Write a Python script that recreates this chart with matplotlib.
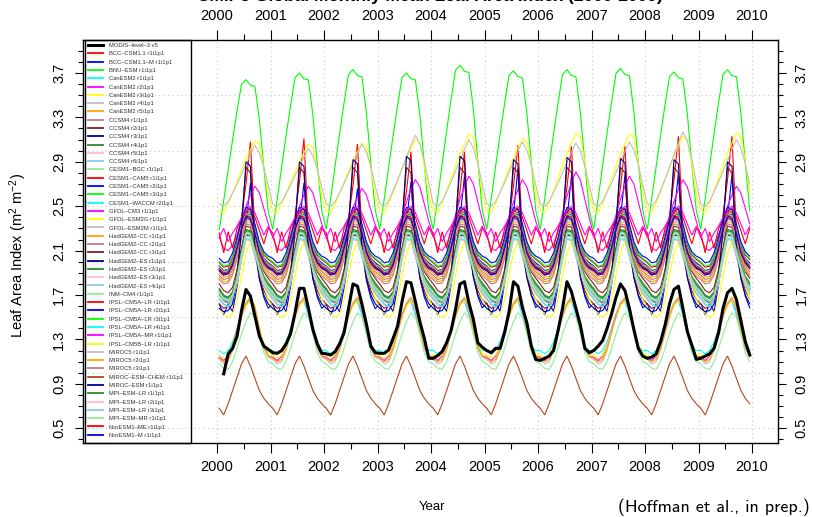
import numpy as np
import matplotlib
matplotlib.use("Agg")
import matplotlib.pyplot as plt
from matplotlib.lines import Line2D
from matplotlib.patches import Rectangle

plt.rcParams['font.family'] = ['Liberation Sans', 'DejaVu Sans']
plt.rcParams['mathtext.fontset'] = 'custom'
plt.rcParams['mathtext.rm'] = 'Liberation Sans'
plt.rcParams['mathtext.it'] = 'Liberation Sans:italic'

# ---------------------------------------------------------------- data
years = list(range(2000, 2010))
year_ticks = list(range(2000, 2011))
lai_ticks = [0.5, 0.9, 1.3, 1.7, 2.1, 2.5, 2.9, 3.3, 3.7]
lai_grid = [0.5, 1.0, 1.5, 2.0, 2.5, 3.0, 3.5]

# MODIS observations, Feb 2000 - Dec 2009 (monthly means)
modis_lai = [
    0.99, 1.17, 1.22, 1.33, 1.56, 1.75, 1.69, 1.51, 1.33, 1.24, 1.21,
    1.18, 1.175, 1.20, 1.26, 1.35, 1.54, 1.76, 1.76, 1.58, 1.39, 1.26, 1.175,
    1.17, 1.16, 1.19, 1.26, 1.36, 1.58, 1.80, 1.78, 1.62, 1.44, 1.24, 1.18,
    1.175, 1.175, 1.205, 1.31, 1.42, 1.64, 1.82, 1.81, 1.64, 1.46, 1.31, 1.13,
    1.13, 1.155, 1.19, 1.27, 1.38, 1.57, 1.80, 1.82, 1.63, 1.48, 1.27, 1.23,
    1.20, 1.18, 1.22, 1.22, 1.36, 1.55, 1.82, 1.78, 1.59, 1.45, 1.24, 1.12,
    1.11, 1.13, 1.15, 1.20, 1.38, 1.58, 1.82, 1.73, 1.58, 1.43, 1.22, 1.18,
    1.20, 1.24, 1.29, 1.40, 1.53, 1.68, 1.80, 1.74, 1.58, 1.39, 1.22, 1.15,
    1.13, 1.14, 1.17, 1.28, 1.43, 1.62, 1.75, 1.78, 1.58, 1.37, 1.25, 1.12,
    1.13, 1.15, 1.17, 1.22, 1.36, 1.58, 1.72, 1.76, 1.66, 1.47, 1.28, 1.16,
]

model_names = [
    "BCC–CSM1.1 r1i1p1", "BCC–CSM1.1–M r1i1p1", "BNU–ESM r1i1p1",
    "CanESM2 r1i1p1", "CanESM2 r2i1p1", "CanESM2 r3i1p1", "CanESM2 r4i1p1",
    "CanESM2 r5i1p1",
    "CCSM4 r1i1p1", "CCSM4 r2i1p1", "CCSM4 r3i1p1", "CCSM4 r4i1p1",
    "CCSM4 r5i1p1", "CCSM4 r6i1p1",
    "CESM1–BGC r1i1p1", "CESM1–CAM5 r1i1p1", "CESM1–CAM5 r2i1p1",
    "CESM1–CAM5 r3i1p1", "CESM1–WACCM r2i1p1",
    "GFDL–CM3 r1i1p1", "GFDL–ESM2G r1i1p1", "GFDL–ESM2M r1i1p1",
    "HadGEM2–CC r1i1p1", "HadGEM2–CC r2i1p1", "HadGEM2–CC r3i1p1",
    "HadGEM2–ES r1i1p1", "HadGEM2–ES r2i1p1", "HadGEM2–ES r3i1p1",
    "HadGEM2–ES r4i1p1",
    "INM–CM4 r1i1p1",
    "IPSL–CM5A–LR r1i1p1", "IPSL–CM5A–LR r2i1p1", "IPSL–CM5A–LR r3i1p1",
    "IPSL–CM5A–LR r4i1p1", "IPSL–CM5A–MR r1i1p1", "IPSL–CM5B–LR r1i1p1",
    "MIROC5 r1i1p1", "MIROC5 r2i1p1", "MIROC5 r3i1p1",
    "MIROC–ESM–CHEM r1i1p1", "MIROC–ESM r1i1p1",
    "MPI–ESM–LR r1i1p1", "MPI–ESM–LR r2i1p1", "MPI–ESM–LR r3i1p1",
    "MPI–ESM–MR r1i1p1", "NorESM1–ME r1i1p1", "NorESM1–M r1i1p1",
]

# 15-colour cycle shared by the model runs
palette = ['#FF0000', '#0000FF', '#00FF00', '#00FFFF', '#FF00FF', '#FFFF00',
           '#BEBEBE', '#FFA500', '#BC7F7F', '#8B1A1A', '#00008B', '#2E8B2E',
           '#FFC0CB', '#87CEEB', '#90EE90']
model_colors = [palette[i % len(palette)] for i in range(len(model_names))]
model_colors[39] = '#B4461E'

# Mean seasonal cycle of each run, Jan..Dec
model_monthly = [
    [1.92, 1.88, 1.90, 1.96, 2.08, 2.40, 2.70, 3.08, 2.25, 2.04, 1.97, 1.94],
    [1.62, 1.52, 1.62, 1.55, 1.78, 2.05, 2.35, 2.72, 2.15, 1.85, 1.68, 1.58],
    [2.29, 2.55, 2.83, 3.10, 3.36, 3.60, 3.64, 3.59, 3.58, 3.28, 2.85, 2.45],
    [1.20, 1.17, 1.20, 1.28, 1.40, 1.53, 1.62, 1.64, 1.52, 1.36, 1.24, 1.20],
    [1.14, 1.11, 1.15, 1.25, 1.39, 1.52, 1.62, 1.66, 1.56, 1.38, 1.22, 1.15],
    [1.16, 1.13, 1.16, 1.25, 1.38, 1.50, 1.60, 1.65, 1.58, 1.40, 1.25, 1.17],
    [1.12, 1.08, 1.10, 1.20, 1.35, 1.50, 1.62, 1.67, 1.57, 1.38, 1.22, 1.14],
    [1.13, 1.10, 1.12, 1.22, 1.37, 1.52, 1.63, 1.68, 1.60, 1.40, 1.24, 1.15],
    [1.74, 1.69, 1.67, 1.72, 1.88, 2.09, 2.28, 2.27, 2.12, 1.97, 1.86, 1.79],
    [1.80, 1.74, 1.72, 1.77, 1.93, 2.13, 2.32, 2.31, 2.17, 2.02, 1.91, 1.85],
    [1.70, 1.65, 1.63, 1.68, 1.84, 2.05, 2.24, 2.23, 2.08, 1.93, 1.82, 1.75],
    [1.76, 1.70, 1.68, 1.73, 1.89, 2.10, 2.29, 2.28, 2.13, 1.98, 1.87, 1.81],
    [1.72, 1.67, 1.65, 1.70, 1.86, 2.07, 2.26, 2.25, 2.10, 1.95, 1.84, 1.77],
    [1.73, 1.68, 1.66, 1.71, 1.87, 2.08, 2.27, 2.26, 2.11, 1.96, 1.85, 1.78],
    [1.69, 1.64, 1.62, 1.67, 1.83, 2.04, 2.23, 2.22, 2.07, 1.92, 1.81, 1.74],
    [1.99, 1.95, 1.96, 2.04, 2.19, 2.36, 2.46, 2.44, 2.31, 2.15, 2.06, 2.02],
    [1.96, 1.92, 1.93, 2.01, 2.16, 2.33, 2.43, 2.42, 2.29, 2.12, 2.03, 1.99],
    [2.00, 1.96, 1.97, 2.05, 2.21, 2.38, 2.48, 2.46, 2.33, 2.16, 2.07, 2.03],
    [1.95, 1.91, 1.92, 2.00, 2.15, 2.32, 2.42, 2.41, 2.28, 2.11, 2.02, 1.98],
    [2.22, 2.12, 2.10, 2.15, 2.24, 2.38, 2.50, 2.60, 2.68, 2.62, 2.48, 2.34],
    [2.46, 2.44, 2.52, 2.62, 2.72, 2.82, 2.92, 3.00, 3.08, 3.05, 2.85, 2.60],
    [2.52, 2.50, 2.54, 2.62, 2.70, 2.79, 2.88, 2.97, 3.05, 2.98, 2.85, 2.68],
    [1.90, 1.86, 1.87, 1.95, 2.10, 2.28, 2.40, 2.39, 2.25, 2.08, 1.98, 1.93],
    [1.88, 1.84, 1.85, 1.93, 2.08, 2.26, 2.38, 2.37, 2.23, 2.06, 1.96, 1.91],
    [1.62, 1.58, 1.60, 1.68, 1.90, 2.35, 2.85, 2.80, 2.10, 1.88, 1.74, 1.66],
    [1.93, 1.89, 1.90, 1.98, 2.13, 2.30, 2.41, 2.40, 2.26, 2.10, 2.00, 1.95],
    [1.96, 1.92, 1.93, 2.01, 2.16, 2.33, 2.44, 2.42, 2.28, 2.12, 2.03, 1.98],
    [1.94, 1.90, 1.91, 1.99, 2.14, 2.31, 2.42, 2.41, 2.27, 2.11, 2.01, 1.96],
    [1.95, 1.91, 1.92, 2.00, 2.15, 2.32, 2.43, 2.41, 2.27, 2.11, 2.02, 1.97],
    [1.08, 1.04, 1.03, 1.10, 1.22, 1.35, 1.46, 1.54, 1.50, 1.35, 1.18, 1.10],
    [2.26, 2.08, 2.27, 2.12, 2.30, 2.38, 2.45, 2.48, 2.40, 2.28, 2.16, 2.30],
    [2.03, 1.99, 2.00, 2.08, 2.22, 2.38, 2.49, 2.47, 2.34, 2.18, 2.09, 2.05],
    [1.71, 1.66, 1.64, 1.69, 1.85, 2.06, 2.25, 2.24, 2.09, 1.94, 1.83, 1.76],
    [1.67, 1.62, 1.60, 1.65, 1.81, 2.02, 2.21, 2.20, 2.05, 1.90, 1.79, 1.72],
    [2.22, 2.30, 2.18, 2.26, 2.32, 2.40, 2.46, 2.50, 2.44, 2.34, 2.24, 2.32],
    [1.58, 1.53, 1.50, 1.53, 1.66, 1.88, 2.08, 2.18, 2.10, 1.92, 1.78, 1.66],
    [1.66, 1.61, 1.59, 1.64, 1.80, 2.01, 2.20, 2.19, 2.04, 1.89, 1.78, 1.71],
    [1.86, 1.82, 1.83, 1.90, 2.05, 2.23, 2.36, 2.35, 2.21, 2.04, 1.94, 1.89],
    [1.84, 1.80, 1.81, 1.88, 2.03, 2.21, 2.34, 2.33, 2.19, 2.02, 1.92, 1.87],
    [0.68, 0.62, 0.72, 0.84, 0.96, 1.08, 1.15, 1.06, 0.95, 0.84, 0.77, 0.72],
    [1.58, 1.55, 1.56, 1.62, 1.85, 2.30, 2.91, 2.87, 2.12, 1.85, 1.70, 1.62],
    [1.75, 1.69, 1.67, 1.72, 1.88, 2.09, 2.28, 2.27, 2.11, 1.96, 1.85, 1.79],
    [1.69, 1.64, 1.62, 1.67, 1.83, 2.04, 2.23, 2.22, 2.07, 1.92, 1.81, 1.74],
    [1.71, 1.66, 1.64, 1.69, 1.85, 2.06, 2.25, 2.24, 2.09, 1.94, 1.83, 1.76],
    [1.72, 1.67, 1.65, 1.70, 1.86, 2.07, 2.26, 2.25, 2.10, 1.95, 1.84, 1.77],
    [1.94, 1.90, 1.91, 1.99, 2.14, 2.31, 2.42, 2.40, 2.27, 2.10, 2.01, 1.96],
    [1.92, 1.88, 1.89, 1.97, 2.12, 2.29, 2.40, 2.38, 2.25, 2.08, 1.99, 1.94],
]

# Seasonal maximum reached in each year (2000..2009) for the runs whose
# peak changes noticeably from year to year
annual_peaks = {
    0: [3.08, 3.11, 3.06, 2.99, 2.99, 3.05, 3.04, 3.04, 3.13, 3.13],
    1: [2.71, 2.71, 2.66, 2.72, 2.77, 2.84, 2.77, 2.78, 2.80, 2.78],
    2: [3.64, 3.70, 3.73, 3.70, 3.77, 3.72, 3.73, 3.74, 3.71, 3.73],
    19: [2.68, 2.68, 2.66, 2.74, 2.77, 2.74, 2.81, 2.77, 2.74, 2.68],
    20: [3.09, 3.06, 3.07, 3.10, 3.15, 3.11, 3.16, 3.15, 3.13, 3.16],
    21: [3.05, 3.02, 3.06, 3.14, 3.10, 3.08, 3.07, 3.08, 3.17, 3.10],
    40: [2.90, 2.90, 2.92, 2.95, 2.95, 2.92, 2.94, 2.93, 2.92, 2.90],
}

# ---------------------------------------------------------------- series
month_time = np.array([y + (m - 0.5) / 12.0 for y in years for m in range(1, 13)])


def model_series(i):
    clim = np.array(model_monthly[i])
    if i not in annual_peaks:
        return np.tile(clim, len(years))
    low, high = clim.min(), clim.max()
    rows = [low + (clim - low) * (pk - low) / (high - low) for pk in annual_peaks[i]]
    return np.concatenate(rows)


# ---------------------------------------------------------------- figure
W, H = 813, 517
fig = plt.figure(figsize=(W / 100, H / 100), dpi=100)
L, R, T, B = 83, 778, 40, 443
ax = fig.add_axes([L / W, 1 - B / H, (R - L) / W, (B - T) / H])
ax.set_xlim(1997.495, 2010.486)
ax.set_ylim(0.367, 3.997)

grid_kw = dict(color='#C8C8C8', lw=0.8, linestyle=(0, (1, 3)), zorder=0)
for g in lai_grid:
    ax.axhline(g, **grid_kw)
for yr in year_ticks:
    ax.axvline(yr, **grid_kw)

for i in range(len(model_names)):
    ax.plot(month_time, model_series(i), color=model_colors[i], lw=0.8,
            zorder=2, solid_joinstyle='miter')
ax.plot(month_time[1:], modis_lai, color='black', lw=2.2, zorder=3)

# axes, ticks and tick labels on all four sides
for s in ax.spines.values():
    s.set_linewidth(1.0)
    s.set_color('black')

ax.set_xticks(year_ticks)
ax.set_xticks([y + 0.5 for y in years], minor=True)
ax.set_yticks(lai_ticks)
ax.set_yticks(np.round(np.arange(0.4, 3.95, 0.1), 1), minor=True)
ax.tick_params(axis='both', which='both', direction='out', width=0.8,
               labelsize=10.5, colors='black')
ax.tick_params(axis='x', which='major', length=7, pad=5, top=True,
               labeltop=True)
ax.tick_params(axis='x', which='minor', length=4, top=True)
ax.tick_params(axis='y', which='major', length=6, pad=6, right=True,
               labelright=True)
ax.tick_params(axis='y', which='minor', length=3.5, right=True)
ax.set_yticklabels([f"{v:.1f}" for v in lai_ticks])
for tick in ax.yaxis.get_major_ticks():
    tick.label1.set_rotation(90)
    tick.label1.set_va('center')
    tick.label1.set_ha('right')
    tick.label2.set_rotation(90)
    tick.label2.set_va('center')
    tick.label2.set_ha('left')

# legend box and entries
ax.add_patch(Rectangle(((85 - L) / (R - L), 0), (191 - 85) / (R - L), 1,
                       transform=ax.transAxes, fill=False, edgecolor='black',
                       lw=1.0, zorder=4, clip_on=False))
handles = [Line2D([], [], color='black', lw=2.2)]
handles += [Line2D([], [], color=c, lw=1.3) for c in model_colors]
labels = ["MODIS–level–3 v5"] + model_names
ax.legend(handles, labels, loc='upper left',
          bbox_to_anchor=((88 - L) / (R - L), 1 - 3 / (B - T)),
          frameon=False, fontsize=4.2, handlelength=2.6, handletextpad=1.0,
          labelspacing=0.55, borderpad=0, borderaxespad=0,
          labelcolor='#333333')

# surrounding text
fig.text(430 / W, 1 - 1 / H,
         "CMIP5 Global Monthly Mean Leaf Area Index (2000-2009)",
         ha='center', va='baseline', fontsize=12.5, fontweight='bold')
fig.text(18 / W, 1 - 255 / H, r"Leaf Area Index (m$^2$ m$^{-2}$)",
         rotation=90, ha='center', va='center', fontsize=10.5)
fig.text(432 / W, 1 - 507 / H, "Year", ha='center', va='center', fontsize=9.5)
fig.text(810 / W, 1 - 507 / H, "(Hoffman et al., in prep.)", ha='right',
         va='center', fontsize=13, family='cmss10')

fig.savefig("out.png", dpi=100)
